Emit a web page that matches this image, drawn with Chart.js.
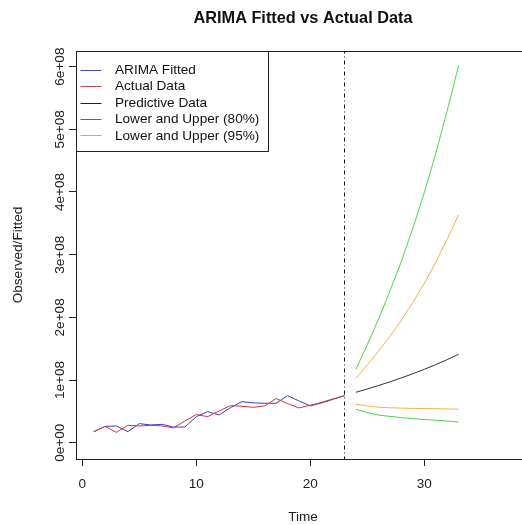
<!DOCTYPE html>
<html>
<head>
<meta charset="utf-8">
<title>ARIMA Fitted vs Actual Data</title>
<script src="https://cdn.jsdelivr.net/npm/chart.js@4.4.1/dist/chart.umd.min.js"></script>
<style>
  html, body { margin: 0; padding: 0; background: #fff; overflow: hidden; }
</style>
</head>
<body>
<canvas id="chart" width="545" height="525"></canvas>
<script>
// observed period
const timeHist = [1, 2, 3, 4, 5, 6, 7, 8, 9, 10, 11, 12, 13, 14, 15, 16, 17, 18, 19, 20, 21, 22, 23];
const actualData = [17.6e6, 26.0e6, 16.5e6, 27.7e6, 26.7e6, 27.7e6, 26.7e6, 23.5e6, 34.7e6, 44.8e6, 41.6e6, 50.7e6,
  59.2e6, 58.1e6, 56.5e6, 58.7e6, 70.4e6, 62.4e6, 55.5e6, 59.7e6, 64.5e6, 69.9e6, 75.2e6];
const fittedData = [17.5e6, 26.0e6, 26.7e6, 17.6e6, 30.4e6, 28.3e6, 29.3e6, 25.0e6, 25.0e6, 41.6e6, 49.6e6, 44.3e6,
  56.0e6, 65.6e6, 63.5e6, 62.9e6, 62.9e6, 75.2e6, 66.7e6, 58.7e6, 63.5e6, 69.3e6, 75.2e6];

// forecast horizon
const timeAhead = [24, 25, 26, 27, 28, 29, 30, 31, 32, 33];
const forecastMean = [80.4e6, 85.7e6, 91.3e6, 97.2e6, 103.5e6, 110.1e6, 117.1e6, 124.5e6, 132.5e6, 141.0e6];
const upper80 = [102.7e6, 124.0e6, 146.3e6, 170.3e6, 195.8e6, 224.0e6, 254.3e6, 287.8e6, 324.5e6, 363.3e6];
const lower80 = [61.5e6, 58.5e6, 56.5e6, 55.7e6, 55.2e6, 54.8e6, 54.5e6, 54.2e6, 53.8e6, 53.5e6];
const upper95 = [117.1e6, 156.4e6, 197.9e6, 242.6e6, 289.9e6, 342.6e6, 399.0e6, 461.2e6, 529.3e6, 601.1e6];
const lower95 = [53.3e6, 48.0e6, 44.0e6, 42.0e6, 40.0e6, 38.5e6, 37.0e6, 36.0e6, 34.5e6, 33.0e6];

const cutoffTime = 23;
const xTicks = [0, 10, 20, 30];
const yTicks = [0, 1e8, 2e8, 3e8, 4e8, 5e8, 6e8];
const legendLabels = ['ARIMA Fitted', 'Actual Data', 'Predictive Data', 'Lower and Upper (80%)', 'Lower and Upper (95%)'];

const FONT = "'Liberation Sans', Arial, sans-serif";
const FS = 13.6;
const INK = '#222';
const legendColors = ['#4646bc', '#cc4448', '#222222', '#2e8a2e', '#5ae85a'];

const pts = (xs, ys) => xs.map((x, i) => ({ x: x, y: ys[i] }));
const line = (data, color, extra) => Object.assign({
  data: data, borderColor: color, borderWidth: 1, pointRadius: 0, tension: 0, fill: false
}, extra || {});

// R style "6e+08" labels
const sciLabel = v => v.toExponential(0).replace(/e([+-])(\d)$/, (m, s, d) => 'e' + s + '0' + d);

// plot frame and legend box drawn on top of the chart area
const frameAndLegend = {
  id: 'frameAndLegend',
  afterDraw(chart) {
    const { ctx, chartArea: a } = chart;
    ctx.save();
    ctx.strokeStyle = INK;
    ctx.lineWidth = 1;
    ctx.strokeRect(Math.round(a.left) + 0.5, Math.round(a.top) + 0.5,
      Math.round(a.right - a.left), Math.round(a.bottom - a.top));

    const bx = Math.round(a.left) + 0.5, by = Math.round(a.top) + 0.5;
    const bw = 192, bh = 100;
    ctx.fillStyle = '#fff';
    ctx.fillRect(bx, by, bw, bh);
    ctx.strokeRect(bx, by, bw, bh);

    ctx.font = FS + 'px ' + FONT;
    ctx.textBaseline = 'middle';
    ctx.textAlign = 'left';
    legendLabels.forEach((label, i) => {
      const y = by + 18.3 + i * 16.4;
      ctx.strokeStyle = legendColors[i];
      ctx.beginPath();
      ctx.moveTo(bx + 4, Math.round(y) + 0.5);
      ctx.lineTo(bx + 25, Math.round(y) + 0.5);
      ctx.stroke();
      ctx.fillStyle = '#111';
      ctx.fillText(label, bx + 38.5, y + 0.5);
    });
    ctx.restore();
  }
};

new Chart(document.getElementById('chart'), {
  type: 'line',
  data: {
    datasets: [
      line(pts(timeHist, actualData), '#d0343c'),
      line(pts(timeHist, fittedData), '#3c3cc0'),
      line(pts(timeAhead, forecastMean), '#333333'),
      line(pts(timeAhead, upper80), '#f5b23c'),
      line(pts(timeAhead, lower80), '#f5b23c'),
      line(pts(timeAhead, upper95), '#46d846'),
      line(pts(timeAhead, lower95), '#46d846'),
      line([{ x: cutoffTime, y: -1e9 }, { x: cutoffTime, y: 1e9 }], '#111', { borderDash: [1, 3, 4, 3] })
    ]
  },
  options: {
    responsive: false,
    animation: false,
    layout: { padding: { left: 0, right: 15, top: 0, bottom: 0 } },
    plugins: {
      legend: { display: false },
      tooltip: { enabled: false },
      title: {
        display: true,
        text: 'ARIMA Fitted vs Actual Data',
        fullSize: false,
        color: '#111',
        font: { family: FONT, size: 16.3, weight: 'bold', lineHeight: 1.2 },
        padding: { top: 8.4, bottom: 23 }
      }
    },
    scales: {
      x: {
        type: 'linear',
        min: -0.553,
        max: 39.27,
        afterBuildTicks: s => { s.ticks = xTicks.map(v => ({ value: v })); },
        afterFit: s => { s.height = 66; },
        border: { display: false },
        grid: { drawOnChartArea: false, tickLength: 7, color: INK, lineWidth: 1 },
        ticks: { autoSkip: false, maxRotation: 0, padding: 10, color: INK, font: { family: FONT, size: FS } },
        title: { display: true, text: 'Time', color: INK, font: { family: FONT, size: FS, lineHeight: 1.2 }, padding: { top: 0, bottom: 0 } }
      },
      y: {
        type: 'linear',
        min: -0.26e8,
        max: 6.25e8,
        afterBuildTicks: s => { s.ticks = yTicks.map(v => ({ value: v })); },
        afterFit: s => { s.width = 76; },
        border: { display: false },
        grid: { drawOnChartArea: false, tickLength: 7, color: INK, lineWidth: 1 },
        ticks: {
          autoSkip: false, minRotation: 90, maxRotation: 90, crossAlign: 'center', padding: -10,
          color: INK, font: { family: FONT, size: FS }, callback: v => sciLabel(v)
        },
        title: { display: true, text: 'Observed/Fitted', color: INK, font: { family: FONT, size: FS, lineHeight: 1.2 }, padding: { top: 10.3, bottom: 0 } }
      }
    }
  },
  plugins: [frameAndLegend]
});
</script>
</body>
</html>
